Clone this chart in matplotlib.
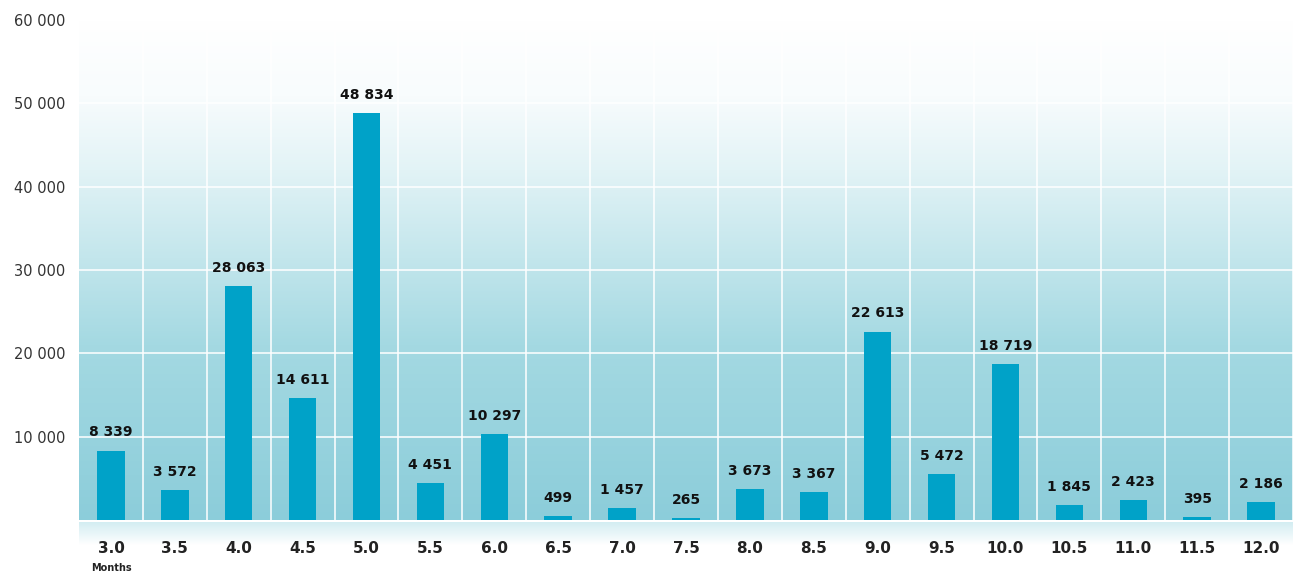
import numpy as np
import matplotlib
matplotlib.use("Agg")
import matplotlib.pyplot as plt
from matplotlib.colors import LinearSegmentedColormap

plt.rcParams["font.family"] = ["DejaVu Sans"]

categories = ["3.0", "3.5", "4.0", "4.5", "5.0", "5.5", "6.0", "6.5", "7.0", "7.5",
              "8.0", "8.5", "9.0", "9.5", "10.0", "10.5", "11.0", "11.5", "12.0"]
values = [8339, 3572, 28063, 14611, 48834, 4451, 10297, 499, 1457, 265,
          3673, 3367, 22613, 5472, 18719, 1845, 2423, 395, 2186]
y_ticks = [10000, 20000, 30000, 40000, 50000, 60000]


def spaced(v):
    return f"{v:,}".replace(",", " ")


fig = plt.figure(figsize=(12.93, 5.73), dpi=100)
fig.patch.set_facecolor("white")
ax = fig.add_axes([79 / 1293, 53 / 573, 1214 / 1293, 500 / 573])

x = np.arange(len(categories))
ax.set_xlim(-0.5, len(categories) - 0.5)
ax.set_ylim(0, 60000)

# vertical white-to-teal background gradient
bg = LinearSegmentedColormap.from_list(
    "bg", [(0.0, "#8ccdda"), (0.35, "#a4d9e2"), (0.7, "#e2f3f6"), (0.85, "#f8fcfd"), (1.0, "#ffffff")])
grad = np.linspace(0, 1, 256).reshape(-1, 1)
ax.imshow(grad, cmap=bg, origin="lower", aspect="auto",
          extent=(-0.5, len(categories) - 0.5, 0, 60000), zorder=0)

# white grid: column separators and horizontal lines
for b in np.arange(-0.5, len(categories), 1.0)[1:]:
    ax.axvline(b, color="white", lw=1.3, alpha=0.85, zorder=1)
for t in y_ticks[:-1]:
    ax.axhline(t, color="white", lw=1.3, alpha=0.85, zorder=1)

ax.bar(x, values, width=0.43, color="#00a2c8", zorder=2)

for xi, v in zip(x, values):
    ax.annotate(spaced(v), (xi, v), xytext=(0, 8), textcoords="offset points",
                ha="center", va="bottom", fontsize=10, fontweight="bold",
                color="#111111", zorder=3)

ax.set_xticks(x)
ax.set_xticklabels(categories, fontsize=11, fontweight="bold", color="#222222")
ax.set_yticks(y_ticks)
ax.set_yticklabels([spaced(t) for t in y_ticks], fontsize=10.5, color="#333333")
ax.tick_params(axis="both", length=0)
ax.tick_params(axis="x", pad=15)
ax.tick_params(axis="y", pad=10)
for s in ax.spines.values():
    s.set_visible(False)

# soft teal band fading out below the plot floor
band = fig.add_axes([79 / 1293, 28 / 573, 1214 / 1293, 23 / 573], zorder=-1)
band_cmap = LinearSegmentedColormap.from_list("band", ["#ffffff", "#d3edf2"])
band.imshow(np.linspace(0, 1, 64).reshape(-1, 1), cmap=band_cmap, origin="lower",
            aspect="auto", extent=(0, 1, 0, 1))
band.set_axis_off()

fig.text(111 / 1293, 1 - 573 / 573, "Months", ha="center", va="bottom",
         fontsize=7, fontweight="bold", color="#222222")

fig.savefig("out.png", dpi=100)
